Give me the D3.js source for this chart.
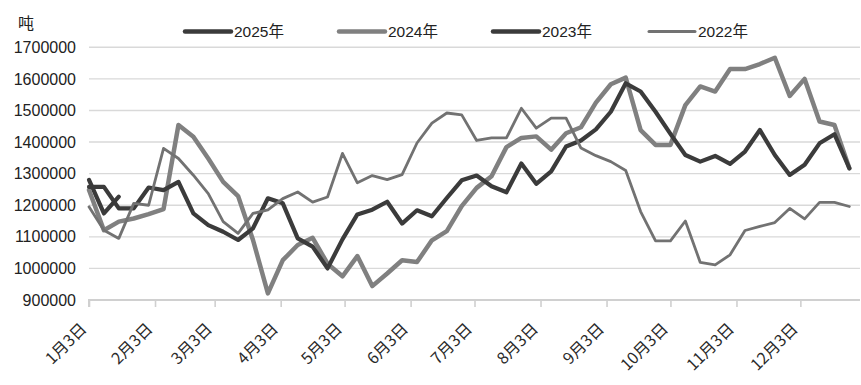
<!DOCTYPE html>
<html><head><meta charset="utf-8">
<script src="https://cdn.jsdelivr.net/npm/d3@7"></script>
<style>
html,body{margin:0;padding:0;background:#fff;}
svg{display:block;font-family:"Liberation Sans","Noto Sans CJK SC",sans-serif;}
</style></head>
<body>
<svg id="chart" width="861" height="385"></svg>
<script>
const weeks = ["01-03","01-10","01-17","01-24","01-31","02-07","02-14","02-21","02-28","03-07","03-14","03-21","03-28","04-04","04-11","04-18","04-25","05-02","05-09","05-16","05-23","05-30","06-06","06-13","06-20","06-27","07-04","07-11","07-18","07-25","08-01","08-08","08-15","08-22","08-29","09-05","09-12","09-19","09-26","10-03","10-10","10-17","10-24","10-31","11-07","11-14","11-21","11-28","12-05","12-12","12-19","12-26"];
const tickDates = ["01-03","02-03","03-03","04-03","05-03","06-03","07-03","08-03","09-03","10-03","11-03","12-03"];
const tickLabels = ["1月3日","2月3日","3月3日","4月3日","5月3日","6月3日","7月3日","8月3日","9月3日","10月3日","11月3日","12月3日"];
const yTicks = [900000,1000000,1100000,1200000,1300000,1400000,1500000,1600000,1700000];
const seriesNames = ["2025年","2024年","2023年","2022年"];
const s2025 = [1280000,1174000,1227000];
const s2024 = [1248000,1121000,1148000,1158000,1172000,1188000,1454000,1417000,1348000,1274000,1229000,1090000,921000,1026000,1074000,1097000,1015000,975000,1039000,944000,984000,1026000,1020000,1089000,1118000,1197000,1255000,1292000,1384000,1413000,1418000,1376000,1428000,1447000,1525000,1583000,1604000,1438000,1391000,1391000,1517000,1576000,1560000,1631000,1631000,1647000,1667000,1546000,1600000,1465000,1454000,1317000];
const s2023 = [1258000,1258000,1190000,1190000,1256000,1248000,1274000,1174000,1137000,1116000,1090000,1127000,1222000,1206000,1095000,1069000,1000000,1092000,1171000,1186000,1211000,1142000,1184000,1165000,1223000,1279000,1294000,1260000,1241000,1332000,1268000,1307000,1386000,1405000,1440000,1496000,1586000,1560000,1496000,1426000,1359000,1338000,1356000,1331000,1370000,1438000,1359000,1296000,1328000,1396000,1425000,1317000];
const s2022 = [1195000,1121000,1095000,1206000,1200000,1380000,1348000,1295000,1237000,1148000,1111000,1174000,1185000,1221000,1242000,1210000,1226000,1364000,1271000,1294000,1281000,1297000,1397000,1460000,1492000,1486000,1405000,1413000,1413000,1507000,1444000,1476000,1476000,1381000,1357000,1338000,1310000,1180000,1087000,1087000,1150000,1019000,1011000,1043000,1120000,1133000,1145000,1190000,1157000,1209000,1209000,1196000];

const parse = d3.timeParse("%Y-%m-%d");
const toDate = s => parse("2025-" + s);

const styles = [
  {color:"#3b3b3b", width:4.2},
  {color:"#808080", width:4.5},
  {color:"#3b3b3b", width:4.2},
  {color:"#727272", width:2.8}
];
const allSeries = [s2025, s2024, s2023, s2022];

const svg = d3.select("#chart");
const pLeft = 89, pRight = 860, pTop = 47.3, pBottom = 300;

const x = d3.scaleTime().domain([toDate("01-03"), toDate("12-31")]).range([pLeft, pRight]);
const y = d3.scaleLinear().domain([900000, 1700000]).range([pBottom, pTop]);

// gridlines
svg.append("g").selectAll("line").data(yTicks.filter(v => v > 900000)).join("line")
  .attr("x1", pLeft).attr("x2", pRight)
  .attr("y1", d => y(d)).attr("y2", d => y(d))
  .attr("stroke", "#d9d9d9").attr("stroke-width", 1.4);

// y axis labels
const yAxis = d3.axisLeft(y).tickValues(yTicks).tickSize(0).tickPadding(13).tickFormat(d3.format("d"));
const gy = svg.append("g").attr("transform", `translate(${pLeft},0)`).call(yAxis);
gy.select(".domain").remove();
gy.selectAll("text").attr("font-size", 16).attr("fill", "#222").attr("font-family", "Liberation Sans, sans-serif");

// x axis
const xAxis = d3.axisBottom(x).tickValues(tickDates.map(toDate)).tickSize(7)
  .tickFormat((d, i) => tickLabels[i]);
const gx = svg.append("g").attr("transform", `translate(0,${pBottom})`).call(xAxis);
gx.select(".domain").attr("stroke", "#d0d0d0").attr("stroke-width", 2).attr("d", `M${pLeft},7V0H${pRight}`);
gx.selectAll(".tick line").attr("stroke", "#d0d0d0").attr("stroke-width", 1.6);
gx.selectAll("text")
  .attr("font-size", 16).attr("fill", "#2a2a2a")
  .attr("font-family", "Noto Sans CJK SC, sans-serif")
  .attr("text-anchor", "end")
  .attr("dy", null).attr("y", 0)
  .attr("transform", "translate(-2,30) rotate(-45)");

// unit label
svg.append("text").attr("x", 18).attr("y", 29).attr("font-size", 16)
  .attr("font-family", "Noto Sans CJK SC, sans-serif").attr("fill", "#222").text("吨");

// lines
const line = d3.line().x((d, i) => x(toDate(weeks[i]))).y(d => y(d));
allSeries.forEach((s, k) => {
  svg.append("path").datum(s).attr("d", line)
    .attr("fill", "none").attr("stroke", styles[k].color)
    .attr("stroke-width", styles[k].width)
    .attr("stroke-linejoin", "round").attr("stroke-linecap", "round");
});

// legend
const legX = [185, 339, 493, 649];
const leg = svg.append("g");
seriesNames.forEach((n, k) => {
  leg.append("line").attr("x1", legX[k]).attr("x2", legX[k] + 46)
    .attr("y1", 31.5).attr("y2", 31.5)
    .attr("stroke", styles[k].color).attr("stroke-width", k === 3 ? 3 : 4.5)
    .attr("stroke-linecap", "round");
  leg.append("text").attr("x", legX[k] + 49).attr("y", 37).attr("font-size", 15.5)
    .attr("fill", "#222").attr("font-family", "Liberation Sans, Noto Sans CJK SC, sans-serif").text(n);
});
</script>
</body></html>
